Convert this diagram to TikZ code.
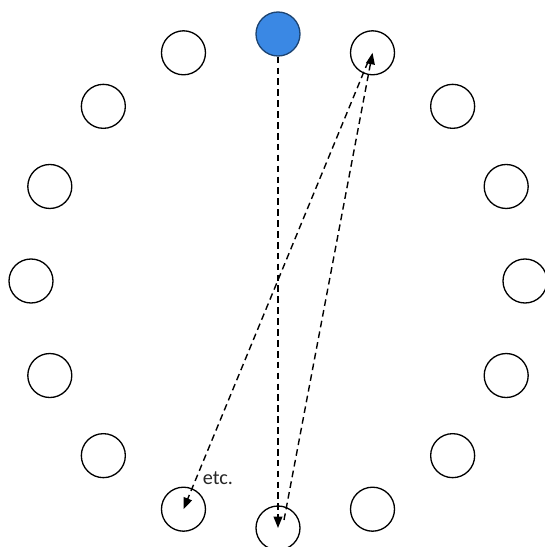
\documentclass[tikz,border=0pt]{standalone}
\usepackage{fontspec}
\setmainfont{Carlito}
\usetikzlibrary{arrows.meta,calc}
\definecolor{seatblue}{RGB}{58,136,228}

\begin{document}
\begin{tikzpicture}[
    seat/.style={draw, circle, line width=.75pt, minimum size=.88cm, inner sep=0pt},
    jump/.style={-{Triangle[length=6.5pt,width=5pt]}, dash pattern=on 3.8pt off 2.4pt, line width=.8pt}
  ]
    \useasboundingbox (-5.56,-5.32) rectangle (5.32,5.62);
    \node[seat, fill=seatblue, draw=seatblue!50!black] (s0) at (90:4.94) {};
    \foreach \i in {1,...,15} {
      \node[seat] (s\i) at ({90-22.5*\i}:4.94) {};
    }
    \draw[jump] (s0) -- (s8.center);
    \draw[jump] ($(s8.center)+(.12,.16)$) -- (s1.center);
    \draw[jump] ($(s1.center)+(-.09,-.18)$) -- (s9.center);
    \node[font=\fontsize{11.5}{13}\selectfont, text=black!85] (etc) at (-1.2,-3.94) {etc.};
  \end{tikzpicture}
\end{document}
